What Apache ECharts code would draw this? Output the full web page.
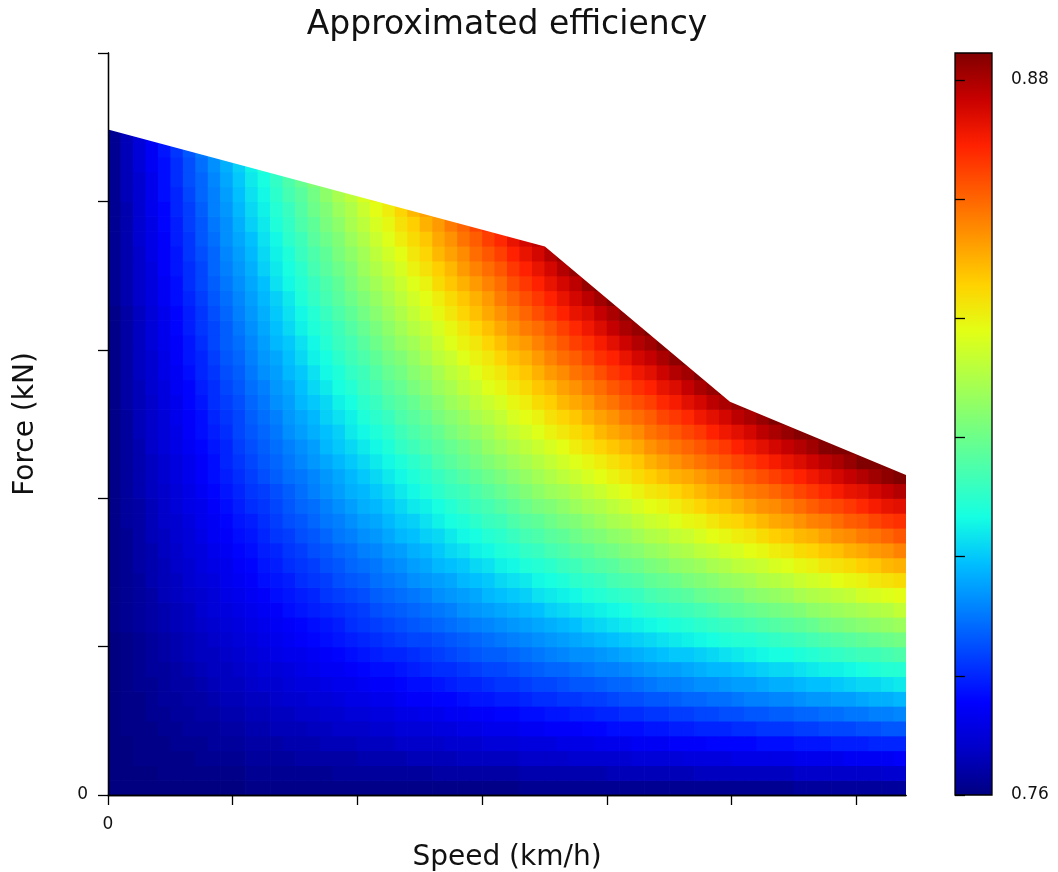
<!DOCTYPE html>
<html>
<head>
<meta charset="utf-8">
<title>Approximated efficiency</title>
<script src="https://cdn.jsdelivr.net/npm/echarts@6/dist/echarts.min.js"></script>
<style>
  html, body { margin: 0; padding: 0; background: #fff; }
  #chart { width: 1058px; height: 872px; }
</style>
</head>
<body>
<div id="chart"></div>
<script>
// Axis extents and tick positions (speed in km/h, force in kN)
const SPEED_MAX = 160;
const FORCE_MAX = 250;
const speedTicks = [0, 25, 50, 75, 100, 125, 150];
const speedLabels = [0];
const forceTicks = [0, 50, 100, 150, 200, 250];
const forceLabels = [0];

// Colour scale of the efficiency map
const EFF_MIN = 0.76;
const EFF_MAX = 0.8845;
const efficiencyTicks = [0.76, 0.78, 0.80, 0.82, 0.84, 0.86, 0.88];
const efficiencyLabels = [0.76, 0.88];

// Maximum tractive effort envelope
const envelopeSpeed = [0, 87.6, 124.7, 160];
const envelopeForce = [224.2, 184.8, 132.5, 107.8];

// Efficiency map in thousandths. Row r spans force r*5 .. r*5+5 kN,
// column c spans speed c*2.5 .. c*2.5+2.5 km/h; rows end at the envelope.
const CELL_SPEED = 2.5;
const CELL_FORCE = 5;
const efficiencyMilli = [
  [760,760,760,760,760,760,760,760,760,760, 760,761,761,761,761,761,761,761,761,761, 761,761,761,761,761,761,761,761,761,761, 761,761,761,762,762,762,762,762,762,762, 762,762,762,762,762,762,762,762,762,762, 762,762,762,762,762,763,763,763,763,763, 763,763,763,763],
  [760,760,760,760,761,761,761,761,761,761, 761,762,762,762,762,762,762,762,763,763, 763,763,763,763,763,763,764,764,764,764, 764,764,764,765,765,765,765,765,765,765, 766,766,766,766,766,766,766,767,767,767, 767,767,767,767,767,768,768,768,768,768, 768,768,769,769],
  [760,760,761,761,761,761,761,762,762,762, 762,763,763,763,763,764,764,764,764,764, 765,765,765,765,766,766,766,766,767,767, 767,767,767,768,768,768,768,769,769,769, 769,769,770,770,770,770,771,771,771,771, 772,772,772,772,772,773,773,773,773,774, 774,774,774,775],
  [760,760,761,761,761,762,762,762,763,763, 763,764,764,764,765,765,765,766,766,766, 767,767,767,768,768,768,768,769,769,769, 770,770,770,771,771,771,772,772,772,773, 773,773,774,774,774,775,775,775,776,776, 776,776,777,777,777,778,778,778,779,779, 779,780,780,780],
  [760,761,761,761,762,762,763,763,763,764, 764,765,765,766,766,766,767,767,768,768, 768,769,769,770,770,770,771,771,772,772, 773,773,773,774,774,775,775,775,776,776, 777,777,777,778,778,779,779,780,780,780, 781,781,782,782,782,783,783,784,784,784, 785,785,786,786],
  [760,761,761,762,762,763,763,764,764,765, 765,766,766,767,767,768,768,769,769,770, 770,771,771,772,772,773,773,774,774,775, 775,776,776,777,777,778,778,779,779,780, 780,781,781,782,782,783,783,784,784,785, 785,786,786,787,787,788,788,789,789,790, 790,791,791,792],
  [760,761,761,762,763,763,764,764,765,766, 766,767,767,768,769,769,770,770,771,772, 772,773,773,774,775,775,776,776,777,778, 778,779,779,780,781,781,782,782,783,783, 784,785,785,786,786,787,788,788,789,789, 790,791,791,792,792,793,794,794,795,795, 796,797,797,798],
  [760,761,762,762,763,764,764,765,766,767, 767,768,769,769,770,771,771,772,773,773, 774,775,775,776,777,777,778,779,780,780, 781,782,782,783,784,784,785,786,786,787, 788,788,789,790,791,791,792,793,793,794, 795,795,796,797,797,798,799,799,800,801, 802,802,803,804],
  [760,761,762,763,763,764,765,766,767,767, 768,769,770,770,771,772,773,774,774,775, 776,777,777,778,779,780,781,781,782,783, 784,784,785,786,787,788,788,789,790,791, 791,792,793,794,795,795,796,797,798,798, 799,800,801,802,802,803,804,805,805,806, 807,808,809,809],
  [760,761,762,763,764,765,766,767,767,768, 769,770,771,772,773,773,774,775,776,777, 778,779,780,780,781,782,783,784,785,786, 787,787,788,789,790,791,792,793,793,794, 795,796,797,798,799,800,800,801,802,803, 804,805,806,807,807,808,809,810,811,812, 813,813,814,815],
  [760,761,762,763,764,765,766,767,768,769, 770,771,772,773,774,775,776,777,778,779, 780,781,782,783,784,784,785,786,787,788, 789,790,791,792,793,794,795,796,797,798, 799,800,801,802,803,804,805,806,807,808, 809,809,810,811,812,813,814,815,816,817, 818,819,820,821],
  [761,762,763,764,765,766,767,768,769,770, 771,772,773,774,775,776,777,778,779,781, 782,783,784,785,786,787,788,789,790,791, 792,793,794,795,796,797,798,799,801,802, 803,804,805,806,807,808,809,810,811,812, 813,814,815,816,817,818,819,821,822,823, 824,825,826,827],
  [761,762,763,764,765,766,767,769,770,771, 772,773,774,775,777,778,779,780,781,782, 783,785,786,787,788,789,790,791,793,794, 795,796,797,798,799,801,802,803,804,805, 806,807,809,810,811,812,813,814,815,817, 818,819,820,821,822,823,825,826,827,828, 829,830,831,833],
  [761,762,763,764,766,767,768,769,770,772, 773,774,775,777,778,779,780,782,783,784, 785,787,788,789,790,791,793,794,795,796, 798,799,800,801,803,804,805,806,808,809, 810,811,812,814,815,816,817,819,820,821, 822,824,825,826,827,829,830,831,832,833, 835,836,837,838],
  [761,762,763,765,766,767,769,770,771,773, 774,775,777,778,779,781,782,783,785,786, 787,789,790,791,793,794,795,796,798,799, 800,802,803,804,806,807,808,810,811,812, 814,815,816,818,819,820,822,823,824,826, 827,828,830,831,832,834,835,836,838,839, 840,842,843,844],
  [761,762,764,765,766,768,769,771,772,773, 775,776,778,779,781,782,783,785,786,788, 789,790,792,793,795,796,798,799,800,802, 803,805,806,808,809,810,812,813,815,816, 817,819,820,822,823,825,826,827,829,830, 832,833,834,836,837,839,840,842,843,844, 846,847,849,850],
  [761,762,764,765,767,768,770,771,773,774, 776,777,779,780,782,783,785,786,788,789, 791,792,794,795,797,798,800,802,803,805, 806,808,809,811,812,814,815,817,818,820, 821,823,824,826,827,829,830,832,833,835, 836,838,839,841,842,844,845,847,848,850, 851,853,854,856],
  [761,762,764,766,767,769,770,772,774,775, 777,778,780,782,783,785,786,788,790,791, 793,794,796,798,799,801,802,804,806,807, 809,810,812,814,815,817,818,820,822,823, 825,826,828,830,831,833,834,836,838,839, 841,842,844,846,847,849,850,852,854,855, 857,858,860,862],
  [761,763,764,766,768,769,771,773,774,776, 778,779,781,783,785,786,788,790,791,793, 795,796,798,800,801,803,805,807,808,810, 812,813,815,817,818,820,822,823,825,827, 829,830,832,834,835,837,839,840,842,844, 845,847,849,851,852,854,856,857,859,861, 862,864,866,867],
  [761,763,764,766,768,770,772,773,775,777, 779,781,782,784,786,788,789,791,793,795, 797,798,800,802,804,805,807,809,811,813, 814,816,818,820,822,823,825,827,829,830, 832,834,836,838,839,841,843,845,847,848, 850,852,854,855,857,859,861,863,864,866, 868,870,872,873],
  [761,763,765,767,768,770,772,774,776,778, 780,782,783,785,787,789,791,793,795,797, 798,800,802,804,806,808,810,812,813,815, 817,819,821,823,825,827,828,830,832,834, 836,838,840,842,843,845,847,849,851,853, 855,857,858,860,862,864,866,868,870,872, 873,875,877,879],
  [761,763,765,767,769,771,773,775,777,779, 781,783,785,787,789,790,792,794,796,798, 800,802,804,806,808,810,812,814,816,818, 820,822,824,826,828,830,832,834,836,838, 840,842,844,846,848,850,851,853,855,857, 859,861,863,865,867,869,871,873,875,877, 879,881,883,885],
  [761,763,765,767,769,771,773,775,777,780, 782,784,786,788,790,792,794,796,798,800, 802,804,806,808,810,812,815,817,819,821, 823,825,827,829,831,833,835,837,839,841, 843,845,847,850,852,854,856,858,860,862, 864,866,868,870,872,874,876,878,880,882, 885,887,889],
  [761,763,765,768,770,772,774,776,778,780, 783,785,787,789,791,793,795,798,800,802, 804,806,808,811,813,815,817,819,821,823, 826,828,830,832,834,836,838,841,843,845, 847,849,851,854,856,858,860,862,864,866, 869,871,873,875,877,879,881,884,886,888],
  [761,763,766,768,770,772,775,777,779,781, 784,786,788,790,793,795,797,799,801,804, 806,808,810,813,815,817,819,822,824,826, 828,831,833,835,837,840,842,844,846,849, 851,853,855,858,860,862,864,866,869,871, 873,875,878,880,882,884,887,889],
  [761,763,766,768,770,773,775,777,780,782, 784,787,789,791,794,796,798,801,803,805, 808,810,812,815,817,819,822,824,826,829, 831,833,836,838,840,843,845,847,850,852, 854,857,859,861,864,866,868,871,873,875, 878,880,882,885,887],
  [761,764,766,768,771,773,776,778,781,783, 785,788,790,793,795,798,800,802,805,807, 810,812,815,817,819,822,824,827,829,832, 834,836,839,841,844,846,849,851,853,856, 858,861,863,865,868,870,873,875,878,880, 882,885],
  [761,764,766,769,771,774,776,779,781,784, 786,789,791,794,796,799,802,804,807,809, 812,814,817,819,822,824,827,829,832,834, 837,839,842,844,847,849,852,854,857,859, 862,864,867,869,872,874,877,880,882,885],
  [761,764,767,769,772,774,777,780,782,785, 787,790,793,795,798,800,803,806,808,811, 813,816,819,821,824,826,829,832,834,837, 840,842,845,847,850,853,855,858,860,863, 866,868,871,873,876,879,881,884],
  [761,764,767,769,772,775,778,780,783,786, 788,791,794,796,799,802,805,807,810,813, 815,818,821,823,826,829,832,834,837,840, 842,845,848,850,853,856,859,861,864,867, 869,872,875,877,880,883,886],
  [761,764,767,770,773,775,778,781,784,787, 789,792,795,798,800,803,806,809,812,814, 817,820,823,826,828,831,834,837,840,842, 845,848,851,853,856,859,862,865,867,870, 873,876,879,881,884],
  [761,764,767,770,773,776,779,782,784,787, 790,793,796,799,802,805,808,810,813,816, 819,822,825,828,831,833,836,839,842,845, 848,851,854,857,859,862,865,868,871,874, 877,880,882,885],
  [761,764,767,770,773,776,779,782,785,788, 791,794,797,800,803,806,809,812,815,818, 821,824,827,830,833,836,839,842,845,848, 851,854,857,860,863,866,869,872,874,877, 880,883,886],
  [762,765,768,771,774,777,780,783,786,789, 792,795,798,801,804,808,811,814,817,820, 823,826,829,832,835,838,841,844,847,850, 853,857,860,863,866,869,872,875,878,881, 884],
  [762,765,768,771,774,777,781,784,787,790, 793,796,799,803,806,809,812,815,818,822, 825,828,831,834,837,840,844,847,850,853, 856,859,863,866,869,872,875,878,882,885],
  [762,765,768,771,775,778,781,784,788,791, 794,797,801,804,807,810,814,817,820,823, 827,830,833,836,840,843,846,849,853,856, 859,862,866,869,872,875,879,882],
  [762,765,768,772,775,778,782,785,788,792, 795,798,802,805,808,812,815,818,822,825, 828,832,835,838,842,845,849,852,855,859, 862,865,869,872,875,879,882],
  [762,765,769,772,775,779,782,786,789,793, 796,799,803,806,810,813,817,820,823,827, 830,834,837,841,844,847,851,854,858,861, 865,868,872,875,878],
  [762,765,769,772,776,779,783,786,790,793, 797,801,804,808,811,815,818,822,825,829, 832,836,839,843,846,850,853,857,860,864, 867],
  [762,765,769,773,776,780,783,787,791,794, 798,802,805,809,812,816,820,823,827,830, 834,838,841,845,849,852],
  [762,766,769,773,777,780,784,788,791,795, 799,803,806,810,814,817,821,825,829,832, 836,840],
  [762,766,769,773,777,781,785,788,792,796, 800,804,807,811,815,819,823,826],
  [762,766,770,774,777,781,785,789,793,797, 801,805,809],
  [762,766,770,774,778,782,786,790,794],
  [762,766,770,774]
];

// Jet colour ramp, evenly spaced from EFF_MIN to EFF_MAX
const jetColors = [
  '#000080', '#0000c8', '#0000ff', '#0040ff', '#0080ff', '#00bfff',
  '#15ffe2', '#48ffaf', '#7bff7b', '#afff48', '#e2ff15', '#ffd200',
  '#ff9700', '#ff5c00', '#ff2100', '#c80000', '#800000'
];

const FONT = 'DejaVu Sans';
const INK = '#111';

const cells = [];
efficiencyMilli.forEach(function (row, r) {
  row.forEach(function (e, c) {
    cells.push([c * CELL_SPEED, r * CELL_FORCE, e / 1000]);
  });
});

const envelope = envelopeSpeed.map(function (s, i) { return [s, envelopeForce[i]]; });

function renderCell(params, api) {
  const s = api.value(0);
  const f = api.value(1);
  const bl = api.coord([s, f]);
  const tr = api.coord([s + CELL_SPEED, f + CELL_FORCE]);
  return {
    type: 'rect',
    shape: { x: bl[0], y: tr[1], width: tr[0] - bl[0] + 0.7, height: bl[1] - tr[1] + 0.7 },
    style: { fill: api.visual('color') }
  };
}

function renderColorbar(params, api) {
  const bl = api.coord([0, api.value(0)]);
  const tr = api.coord([1, api.value(1)]);
  const stops = jetColors.map(function (c, i) {
    return { offset: i / (jetColors.length - 1), color: c };
  });
  return {
    type: 'rect',
    shape: { x: bl[0], y: tr[1], width: tr[0] - bl[0], height: bl[1] - tr[1] },
    style: {
      fill: new echarts.graphic.LinearGradient(0, 1, 0, 0, stops),
      stroke: '#000',
      lineWidth: 1.3
    }
  };
}

const axisLineStyle = { color: '#000', width: 1.3 };

const chart = echarts.init(document.getElementById('chart'));
chart.setOption({
  animation: false,
  backgroundColor: '#fff',
  textStyle: { fontFamily: FONT },
  title: {
    text: 'Approximated efficiency',
    left: 507,
    top: 9,
    padding: 0,
    textAlign: 'center',
    textStyle: { fontFamily: FONT, fontSize: 33, fontWeight: 'normal', color: INK }
  },
  grid: [
    { left: 108, top: 53, width: 798, height: 742, outerBoundsMode: 'none' },
    { left: 955, top: 53, width: 37, height: 742, outerBoundsMode: 'none' }
  ],
  visualMap: {
    show: false,
    type: 'continuous',
    min: EFF_MIN,
    max: EFF_MAX,
    dimension: 2,
    seriesIndex: 0,
    inRange: { color: jetColors }
  },
  xAxis: [
    {
      gridIndex: 0, type: 'value', position: 'bottom', min: 0, max: SPEED_MAX, z: 10,
      name: 'Speed (km/h)', nameLocation: 'middle', nameGap: 49,
      nameTextStyle: { fontFamily: FONT, fontSize: 28, color: INK },
      axisLine: { show: true, lineStyle: axisLineStyle },
      axisTick: { show: true, inside: false, length: 10, customValues: speedTicks, lineStyle: axisLineStyle },
      axisLabel: {
        show: true, customValues: speedLabels, margin: 21,
        fontFamily: FONT, fontSize: 17, color: INK,
        formatter: function (v) { return String(v); }
      },
      splitLine: { show: false }
    },
    {
      gridIndex: 0, type: 'value', position: 'top', min: 0, max: SPEED_MAX, z: 10,
      axisLine: { show: true, lineStyle: axisLineStyle },
      axisTick: { show: false }, axisLabel: { show: false }, splitLine: { show: false }
    },
    {
      gridIndex: 1, type: 'value', min: 0, max: 1, show: false
    }
  ],
  yAxis: [
    {
      gridIndex: 0, type: 'value', position: 'left', min: 0, max: FORCE_MAX, z: 10,
      name: 'Force (kN)', nameLocation: 'middle', nameGap: 68,
      nameTextStyle: { fontFamily: FONT, fontSize: 28, color: INK },
      axisLine: { show: true, lineStyle: axisLineStyle },
      axisTick: { show: true, inside: false, length: 10, customValues: forceTicks, lineStyle: axisLineStyle },
      axisLabel: {
        show: true, customValues: forceLabels, margin: 20,
        fontFamily: FONT, fontSize: 17, color: INK,
        formatter: function (v) { return String(v); }
      },
      splitLine: { show: false }
    },
    {
      gridIndex: 0, type: 'value', position: 'right', min: 0, max: FORCE_MAX, z: 10,
      axisLine: { show: true, lineStyle: axisLineStyle },
      axisTick: { show: false }, axisLabel: { show: false }, splitLine: { show: false }
    },
    {
      gridIndex: 1, type: 'value', position: 'right', min: EFF_MIN, max: EFF_MAX, z: 10,
      axisLine: { show: false },
      axisTick: { show: true, inside: false, length: 10, customValues: efficiencyTicks, lineStyle: axisLineStyle },
      axisLabel: {
        show: true, customValues: efficiencyLabels, margin: 19,
        fontFamily: FONT, fontSize: 17, color: INK,
        formatter: function (v) { return v.toFixed(2); }
      },
      splitLine: { show: false }
    }
  ],
  series: [
    {
      name: 'Efficiency',
      type: 'custom',
      xAxisIndex: 0,
      yAxisIndex: 0,
      renderItem: renderCell,
      encode: { x: 0, y: 1 },
      data: cells,
      clip: true,
      progressive: 0,
      silent: true,
      z: 2
    },
    {
      name: 'Envelope',
      type: 'line',
      xAxisIndex: 0,
      yAxisIndex: 0,
      data: envelope,
      symbol: 'none',
      lineStyle: { width: 0, opacity: 0 },
      areaStyle: { origin: 'end', color: '#fff', opacity: 1 },
      silent: true,
      z: 3
    },
    {
      name: 'Colour scale',
      type: 'custom',
      xAxisIndex: 2,
      yAxisIndex: 2,
      renderItem: renderColorbar,
      encode: { y: [0, 1] },
      data: [[EFF_MIN, EFF_MAX]],
      silent: true,
      z: 2
    }
  ]
});
</script>
</body>
</html>
